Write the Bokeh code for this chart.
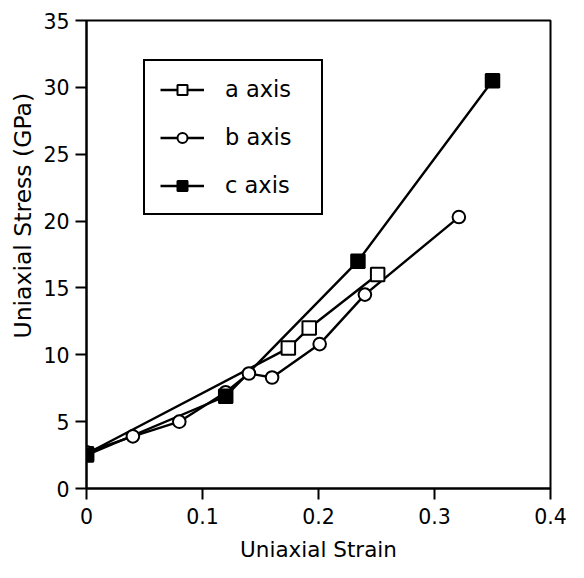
from bokeh.plotting import figure
from bokeh.models import FixedTicker, Legend, LegendItem, Range1d, Title
from bokeh.embed import file_html
from bokeh.resources import INLINE

# data
a_strain = [0.0, 0.174, 0.192, 0.251]
a_stress = [2.6, 10.5, 12.0, 16.0]

b_strain = [0.0, 0.04, 0.08, 0.12, 0.14, 0.16, 0.201, 0.240, 0.321]
b_stress = [2.7, 3.9, 5.0, 7.2, 8.6, 8.3, 10.8, 14.5, 20.3]

c_strain = [0.0, 0.12, 0.234, 0.35]
c_stress = [2.5, 6.9, 17.0, 30.5]

x_ticks = [0, 0.1, 0.2, 0.3, 0.4]
x_tick_labels = ["0", "0.1", "0.2", "0.3", "0.4"]
y_ticks = [0, 5, 10, 15, 20, 25, 30, 35]

FONT = "DejaVu Sans"

p = figure(frame_width=464, frame_height=468, output_backend="svg", toolbar_location=None,
           x_range=Range1d(0, 0.4), y_range=Range1d(0, 35),
           min_border_left=86, min_border_right=18, min_border_top=20, min_border_bottom=74)
p.background_fill_color = "white"
p.border_fill_color = "white"
p.xgrid.visible = False
p.ygrid.visible = False
p.outline_line_color = "black"
p.outline_line_width = 2
p.outline_line_alpha = 1.0

for ax in (p.xaxis[0], p.yaxis[0]):
    ax.axis_line_width = 2
    ax.major_tick_line_width = 2
    ax.major_tick_in = 0
    ax.major_tick_out = 11
    ax.minor_tick_line_color = None
    ax.major_label_text_font = FONT
    ax.major_label_text_font_size = "20.5px"
    ax.major_label_text_color = "black"
    ax.axis_label_text_font = FONT
    ax.axis_label_text_font_style = "normal"
    ax.axis_label_text_color = "black"

p.xaxis.ticker = FixedTicker(ticks=x_ticks)
p.xaxis.major_label_overrides = {t: l for t, l in zip(x_ticks, x_tick_labels)}
p.yaxis.ticker = FixedTicker(ticks=y_ticks)
p.xaxis.axis_label = "Uniaxial Strain"
p.xaxis.axis_label_text_font_size = "21.5px"
p.xaxis.major_label_standoff = 8
p.yaxis.major_label_standoff = 6
p.xaxis.axis_label_standoff = 10

ylab = Title(text="Uniaxial Stress (GPa)", align="left", offset=150,
             text_font=FONT, text_font_size="23.5px", text_font_style="normal",
             text_color="black", standoff=8)
p.add_layout(ylab, "left")

la = p.line(a_strain, a_stress, line_color="black", line_width=2.4)
lb = p.line(b_strain, b_stress, line_color="black", line_width=2.4)
lc = p.line(c_strain, c_stress, line_color="black", line_width=2.4)

sa = p.scatter(a_strain, a_stress, marker="square", size=13.5, fill_color="white",
               line_color="black", line_width=2)
sb = p.scatter(b_strain, b_stress, marker="circle", size=12.6, fill_color="white",
               line_color="black", line_width=2)
sc = p.scatter(c_strain, c_stress, marker="square", size=13.5, fill_color="black",
               line_color="black", line_width=2)

legend = Legend(items=[
    LegendItem(label="a axis", renderers=[la, sa]),
    LegendItem(label="b axis", renderers=[lb, sb]),
    LegendItem(label="c axis", renderers=[lc, sc]),
], location=(57, 273))
legend.label_text_font = FONT
legend.label_text_font_size = "22.5px"
legend.label_text_color = "black"
legend.glyph_width = 44
legend.glyph_height = 25
legend.label_height = 25
legend.label_width = 81
legend.label_standoff = 21
legend.padding = 15
legend.spacing = 22
legend.margin = 0
legend.border_line_color = "black"
legend.border_line_width = 2
legend.border_line_alpha = 1.0
legend.background_fill_color = "white"
legend.background_fill_alpha = 1.0
p.add_layout(legend)

open("out.html", "w").write(file_html(p, INLINE))
